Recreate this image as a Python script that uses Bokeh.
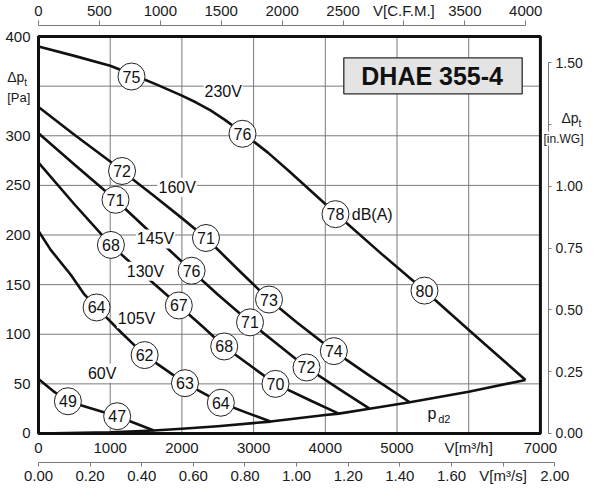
from bokeh.plotting import figure
from bokeh.models import Range1d, LinearAxis, FixedTicker, PrintfTickFormatter, Label, BoxAnnotation
from bokeh.core.properties import value
from bokeh.embed import file_html
from bokeh.resources import INLINE

FONT = "Liberation Sans"

# ---------------- data (flow V in m3/h, total pressure in Pa) ----------------
v230_q = [0, 500, 1000, 1300, 1650, 2000, 2200, 2400, 2600, 2845, 3200, 3500, 4142, 4800, 5383, 6100, 6792]
v230_p = [390, 380.5, 370.5, 362, 351.5, 340.5, 333.5, 325.5, 316, 303, 283, 264, 222, 180, 144, 98, 54]

v160_q = [0, 500, 1000, 1165, 1600, 2000, 2336, 2800, 3215, 3600, 4119, 4600, 5178]
v160_p = [329, 301, 274, 264.5, 240, 217, 197, 164, 135, 112, 83, 59, 31.5]

v145_q = [0, 500, 1074, 1600, 2135, 2500, 2950, 3350, 3738, 4200, 4616]
v145_p = [302.6, 271, 235.5, 200, 164, 140, 112, 89, 66.5, 44.5, 25]

v130_q = [0, 500, 1010, 1500, 1957, 2300, 2590, 3000, 3305, 3800, 4188]
v130_p = [273, 231, 190, 158, 129, 107, 87.7, 66, 50, 33, 20]

v105_q = [0, 170, 450, 630, 810, 1150, 1480, 2043, 2543, 2900, 3236]
v105_p = [204, 185, 160, 141, 127, 102, 79, 50.7, 31, 21, 12]

v60_q = [0, 200, 410, 750, 1097, 1608]
v60_p = [55, 43, 32.5, 25, 17.4, 3]

pd2_q = [0, 1000, 1608, 2000, 2500, 3236, 4000, 4188, 4616, 5178, 6000, 6792]
pd2_p = [0, 1.2, 3, 4.7, 7.3, 12, 18.7, 20, 25, 31.5, 42, 54]

curves_q = [v230_q, v160_q, v145_q, v130_q, v105_q, v60_q]
curves_p = [v230_p, v160_p, v145_p, v130_p, v105_p, v60_p]

# sound power markers dB(A)
mark_q = [1297, 2845, 4142, 5383, 1165, 2336, 3215, 4119, 1074, 2135, 2950, 3738,
          1010, 1957, 2590, 3305, 810, 1480, 2043, 2543, 410, 1097]
mark_p = [359.7, 302, 221, 144, 264.5, 197, 135, 83, 235.5, 164, 112, 66.5,
          190, 129, 87.7, 50, 127, 79, 50.7, 31, 32.5, 17.4]
mark_db = ["75", "76", "78", "80", "72", "71", "73", "74", "71", "76", "71", "72",
           "68", "67", "68", "70", "64", "62", "63", "64", "49", "47"]

volt_text = ["230V", "160V", "145V", "130V", "105V", "60V"]
volt_q = [2576, 1934, 1632, 1492, 1367, 888]
volt_p = [345, 248, 196, 163.5, 115.6, 60.8]

title_text = "DHAE 355-4"

# ticks
m3h_ticks = [0, 1000, 2000, 3000, 4000, 5000, 6000, 7000]
pa_ticks = [0, 50, 100, 150, 200, 250, 300, 350, 400]
cfm_ticks = [0, 500, 1000, 1500, 2000, 2500, 3000, 3500, 4000]
m3s_ticks = [0.0, 0.2, 0.4, 0.6, 0.8, 1.0, 1.2, 1.4, 1.6, 1.8, 2.0]
inwg_ticks = [0.0, 0.25, 0.5, 0.75, 1.0, 1.25, 1.5]

M3H_PER_CFM = 1.699
PA_PER_INWG = 249.09
M3H_PER_M3S = 3600.0

# ---------------- figure: frame fills the canvas, axes at fixed locations ----------------
x_lo, x_hi = -530.0, 7615.0
y_lo, y_hi = -51.4, 436.3

p = figure(width=584, height=484,
           x_range=Range1d(x_lo, x_hi), y_range=Range1d(y_lo, y_hi),
           x_axis_location=None, y_axis_location=None,
           toolbar_location=None, output_backend="svg",
           min_border_left=0, min_border_right=0,
           min_border_top=0, min_border_bottom=0)
p.grid.visible = False
p.outline_line_color = None
p.background_fill_color = "white"
p.border_fill_color = "white"

p.extra_x_ranges = {
    "cfm": Range1d(x_lo / M3H_PER_CFM, x_hi / M3H_PER_CFM),
    "m3s": Range1d(x_lo / M3H_PER_M3S, x_hi / M3H_PER_M3S),
}
p.extra_y_ranges = {"inwg": Range1d(y_lo / PA_PER_INWG, y_hi / PA_PER_INWG)}

AX_GRAY = "#7a7a7a"


def style_axis(ax, line=True, tick_out=0, standoff=3, size="15px"):
    ax.major_label_text_font = FONT
    ax.major_label_text_font_size = size
    ax.major_label_text_color = "#1a1a1a"
    ax.minor_tick_line_color = None
    ax.minor_tick_out = 0
    ax.minor_tick_in = 0
    ax.major_tick_in = 0
    ax.major_tick_out = tick_out
    ax.major_label_standoff = standoff
    if line:
        ax.axis_line_color = AX_GRAY
        ax.axis_line_width = 1
        ax.major_tick_line_color = AX_GRAY
    else:
        ax.axis_line_color = None
        ax.major_tick_line_color = None


left_ax = LinearAxis(ticker=FixedTicker(ticks=pa_ticks), major_label_overrides={350: ""},
                     fixed_location=m3h_ticks[0])
style_axis(left_ax, line=False, standoff=8)
p.add_layout(left_ax, "left")

m3h_ax = LinearAxis(ticker=FixedTicker(ticks=m3h_ticks),
                    major_label_overrides={6000: "V[m³/h]"},
                    fixed_location=pa_ticks[0])
style_axis(m3h_ax, line=False, standoff=6)
p.add_layout(m3h_ax, "below")

m3s_ax = LinearAxis(x_range_name="m3s", ticker=FixedTicker(ticks=m3s_ticks),
                    formatter=PrintfTickFormatter(format="%.2f"),
                    major_label_overrides={1.8: "V[m³/s]"}, bounds=(0, 2.0),
                    fixed_location=-29.2)
style_axis(m3s_ax, line=True, tick_out=4, standoff=1)
p.add_layout(m3s_ax, "below")

cfm_ax = LinearAxis(x_range_name="cfm", ticker=FixedTicker(ticks=cfm_ticks),
                    major_label_overrides={3000: "V[C.F.M.]"}, bounds=(0, 4000),
                    fixed_location=411.1)
style_axis(cfm_ax, line=True, tick_out=5, standoff=2)
p.add_layout(cfm_ax, "above")

inwg_ax = LinearAxis(y_range_name="inwg", ticker=FixedTicker(ticks=inwg_ticks),
                     formatter=PrintfTickFormatter(format="%.2f"),
                     major_label_overrides={1.25: ""}, bounds=(0, 1.5),
                     fixed_location=7113)
style_axis(inwg_ax, line=True, tick_out=3, standoff=4, size="14px")
p.add_layout(inwg_ax, "right")

# ---------------- grid & frame ----------------
gx = m3h_ticks[1:-1]
gy = pa_ticks[1:-1]
p.segment(x0=gx, y0=[pa_ticks[0]] * len(gx), x1=gx, y1=[pa_ticks[-1]] * len(gx),
          line_color="#7a7a7a", line_width=1)
p.segment(x0=[m3h_ticks[0]] * len(gy), y0=gy, x1=[m3h_ticks[-1]] * len(gy), y1=gy,
          line_color="#7a7a7a", line_width=1)

# ---------------- curves ----------------
for q, pr in zip(curves_q, curves_p):
    p.line(q, pr, line_color="#111111", line_width=2.6, line_join="round")
p.line(pd2_q, pd2_p, line_color="#111111", line_width=2.6, line_join="round")

p.quad(left=m3h_ticks[0], right=m3h_ticks[-1], bottom=pa_ticks[0], top=pa_ticks[-1],
       fill_color=None, line_color="#111111", line_width=3)

# markers
p.scatter(mark_q, mark_p, size=27, fill_color="white", line_color="#222222", line_width=1)
p.text(mark_q, mark_p, text=mark_db, text_align="center", text_baseline="middle",
       text_font=value(FONT), text_font_size="16px", text_color="#111111")

# voltage labels
for t, q, pr in zip(volt_text, volt_q, volt_p):
    p.add_layout(Label(x=q, y=pr, text=t, text_align="center", text_baseline="middle",
                       text_font=FONT, text_font_size="16px", text_color="#111111",
                       background_fill_color="white", padding=1))

p.add_layout(Label(x=4369, y=220.6, text="dB(A)", text_align="left", text_baseline="middle",
                   text_font=FONT, text_font_size="16px", text_color="#111111"))

# p_d2
p.add_layout(Label(x=5487, y=19.7, text="p", text_align="center", text_baseline="middle",
                   text_font=FONT, text_font_size="16px", text_color="#111111"))
p.add_layout(Label(x=5575, y=14.8, text="d2", text_align="left", text_baseline="middle",
                   text_font=FONT, text_font_size="11px", text_color="#111111"))

# title box
p.add_layout(BoxAnnotation(left=4258, right=6746, bottom=342.3, top=378.5,
                           fill_color="#e4e4e4", fill_alpha=1.0,
                           line_color="#2a2a2a", line_width=1.3, line_alpha=1.0))
p.add_layout(Label(x=5490, y=359.9, text=title_text, text_align="center", text_baseline="middle",
                   text_font=FONT, text_font_size="25px", text_font_style="bold",
                   text_color="#111111"))

# axis unit labels
p.add_layout(Label(x=-436, y=359.7, text="Δp", text_align="left", text_baseline="middle",
                   text_font=FONT, text_font_size="14px", text_color="#1a1a1a"))
p.add_layout(Label(x=-199, y=353.7, text="t", text_align="left", text_baseline="middle",
                   text_font=FONT, text_font_size="10px", text_color="#1a1a1a"))
p.add_layout(Label(x=-436, y=338.5, text="[Pa]", text_align="left", text_baseline="middle",
                   text_font=FONT, text_font_size="13px", text_color="#1a1a1a"))

p.add_layout(Label(x=7294, y=318.4, text="Δp", text_align="left", text_baseline="middle",
                   text_font=FONT, text_font_size="14px", text_color="#1a1a1a",
                   background_fill_color="white"))
p.add_layout(Label(x=7531, y=312.3, text="t", text_align="left", text_baseline="middle",
                   text_font=FONT, text_font_size="10px", text_color="#1a1a1a"))
p.add_layout(Label(x=7601, y=297.2, text="[in.WG]", text_align="right", text_baseline="middle",
                   text_font=FONT, text_font_size="12px", text_color="#1a1a1a",
                   background_fill_color="white"))

open("out.html", "w").write(file_html(p, INLINE))
